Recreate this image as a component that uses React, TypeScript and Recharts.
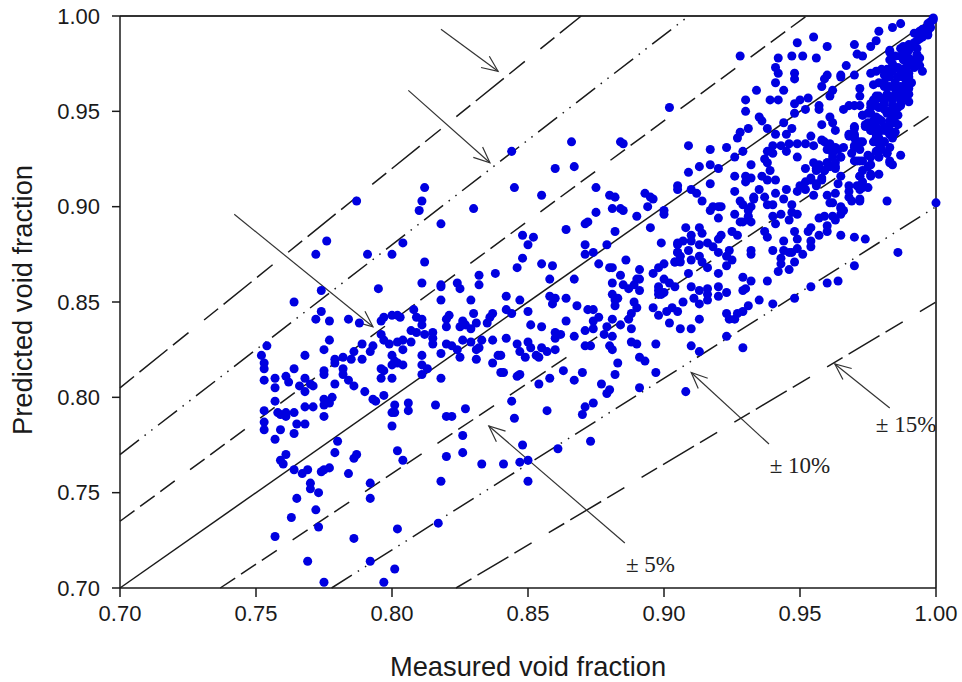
import { ScatterChart, Scatter, XAxis, YAxis, ZAxis, ReferenceLine, ReferenceDot } from "recharts";

type Pair = [number, number];

// [measured, predicted], left to right
const lowVoid: Pair[] = [
  [.774,.856],[.795,.857],[.764,.850],[.774,.845],[.772,.841],[.777,.840],[.784,.841],[.788,.839],[.796,.840],[.797,.842],[.800,.843],[.802,.843],
  [.754,.827],[.752,.822],[.777,.830],[.775,.825],[.768,.822],[.796,.833],[.797,.830],[.799,.828],[.802,.829],[.789,.828],[.793,.827],[.792,.824],
  [.786,.824],[.782,.821],[.779,.820],[.779,.818],[.785,.820],[.789,.820],[.800,.822],[.801,.819],[.800,.817],[.802,.818],[.753,.818],[.753,.815],
  [.764,.815],[.796,.815],[.797,.814],[.775,.814],[.775,.812],[.782,.815],[.782,.812],[.784,.809],[.786,.806],[.796,.810],[.800,.810],[.753,.809],
  [.757,.810],[.761,.811],[.762,.808],[.768,.810],[.766,.806],[.770,.807],[.771,.806],[.768,.803],[.779,.807],[.757,.805],[.790,.803],[.797,.801],
  [.793,.799],[.794,.798],[.778,.800],[.775,.799],[.775,.796],[.777,.797],[.757,.798],[.768,.795],[.771,.795],[.753,.793],[.758,.792],[.759,.791],
  [.761,.792],[.761,.790],[.764,.792],[.775,.790],[.801,.796],[.800,.792],[.801,.792],[.800,.785],[.753,.787],[.753,.783],[.759,.783],[.765,.786],
  [.768,.786],[.764,.781],[.757,.778],[.780,.777],[.779,.771],[.787,.770],[.786,.768],[.802,.772],[.761,.770],[.759,.767],[.760,.765],[.764,.762],
  [.769,.762],[.767,.760],[.774,.761],[.775,.762],[.777,.763],[.784,.760],[.770,.755],[.770,.752],[.773,.750],[.792,.755],[.765,.747],[.792,.747],
  [.772,.741],[.763,.737],[.773,.732],[.757,.727],[.786,.726],[.802,.731],[.769,.714],[.792,.714],[.801,.710],[.775,.703],[.797,.703],
  [.787,.903],[.812,.910],[.811,.903],[.810,.898],[.830,.899],[.818,.891],[.776,.882],[.772,.875],[.791,.875],[.800,.875],[.804,.881],[.812,.871],
  [.811,.860],[.818,.859],[.818,.858],[.824,.860],[.825,.857],[.832,.864],[.832,.859],[.838,.865],[.818,.851],[.829,.851],
];

const midVoid: Pair[] = [
  [.844,.929],[.860,.920],[.867,.921],[.866,.934],[.884,.934],[.885,.933],[.845,.910],[.855,.906],[.875,.910],[.880,.906],[.882,.905],[.893,.907],
  [.896,.904],[.895,.905],[.905,.911],[.905,.909],[.894,.900],[.881,.899],[.884,.899],[.885,.898],[.875,.897],[.890,.895],[.900,.898],[.900,.896],
  [.871,.891],[.872,.892],[.895,.889],[.864,.888],[.882,.887],[.848,.885],[.852,.884],[.850,.880],[.899,.881],[.871,.880],[.871,.875],[.874,.876],
  [.879,.880],[.905,.880],[.905,.876],[.848,.873],[.846,.868],[.855,.870],[.859,.869],[.886,.872],[.876,.870],[.880,.868],[.881,.868],[.891,.867],
  [.900,.870],[.898,.868],[.896,.865],[.904,.871],[.858,.862],[.867,.862],[.884,.864],[.891,.862],[.890,.862],[.881,.860],[.885,.859],[.887,.857],
  [.889,.859],[.891,.856],[.900,.862],[.902,.860],[.898,.858],[.900,.855],[.904,.858],[.842,.853],[.847,.851],[.858,.853],[.860,.852],[.859,.849],
  [.864,.852],[.868,.848],[.881,.854],[.883,.852],[.882,.851],[.882,.848],[.898,.854],[.889,.850],[.890,.847],[.888,.844],[.896,.847],[.872,.846],
  [.874,.846],[.876,.842],[.898,.843],[.901,.845],[.903,.847],[.905,.845],[.902,.839],[.906,.836],[.842,.846],[.844,.844],[.850,.845],[.808,.846],
  [.809,.842],[.811,.841],[.811,.838],[.807,.835],[.809,.834],[.812,.833],[.815,.834],[.815,.831],[.815,.828],[.804,.830],[.807,.829],[.804,.825],
  [.803,.842],[.821,.843],[.820,.841],[.820,.837],[.830,.844],[.837,.844],[.836,.842],[.835,.839],[.831,.839],[.826,.840],[.825,.837],[.827,.838],
  [.829,.836],[.851,.838],[.855,.837],[.864,.840],[.874,.840],[.874,.836],[.871,.835],[.879,.837],[.881,.841],[.884,.838],[.887,.841],[.888,.836],
  [.878,.833],[.881,.832],[.860,.834],[.862,.833],[.860,.831],[.867,.832],[.842,.831],[.837,.830],[.826,.830],[.829,.829],[.833,.830],[.832,.826],
  [.831,.825],[.820,.828],[.822,.827],[.824,.825],[.818,.823],[.825,.821],[.831,.820],[.811,.822],[.804,.817],[.811,.817],[.813,.815],[.811,.812],
  [.818,.810],[.837,.818],[.839,.822],[.840,.822],[.846,.828],[.847,.824],[.849,.821],[.850,.829],[.851,.826],[.855,.826],[.857,.824],[.860,.825],
  [.853,.822],[.854,.821],[.840,.813],[.841,.813],[.846,.811],[.847,.812],[.863,.814],[.858,.810],[.854,.807],[.867,.809],[.870,.813],[.871,.827],
  [.873,.827],[.880,.827],[.881,.825],[.888,.829],[.890,.828],[.897,.828],[.891,.821],[.893,.819],[.883,.818],[.897,.813],[.882,.812],[.877,.807],
  [.880,.804],[.879,.802],[.891,.805],[.874,.797],[.871,.795],[.870,.791],[.806,.797],[.806,.793],[.816,.796],[.820,.790],[.822,.790],[.827,.794],
  [.844,.798],[.845,.789],[.857,.793],[.826,.780],[.848,.775],[.861,.773],[.873,.777],[.804,.767],[.820,.769],[.826,.771],[.833,.765],[.841,.765],
  [.847,.766],[.850,.767],[.818,.756],[.850,.756],[.817,.734],
];

const highVoid: Pair[] = [
  [.902,.952],[.909,.932],[.913,.921],[.909,.918],[.928,.979],[.955,.989],[.949,.986],[.960,.984],[.942,.978],[.947,.979],[.951,.979],[.956,.978],
  [.970,.985],[.978,.987],[.976,.984],[.979,.992],[.984,.994],[.987,.996],[.983,.982],[.971,.980],[.973,.979],[.967,.974],[.941,.973],[.942,.970],
  [.948,.970],[.948,.967],[.960,.969],[.959,.967],[.965,.969],[.965,.968],[.970,.969],[.941,.965],[.944,.961],[.934,.961],[.930,.956],[.939,.956],
  [.942,.956],[.958,.963],[.962,.961],[.961,.958],[.972,.962],[.972,.958],[.953,.957],[.950,.956],[.948,.954],[.957,.953],[.957,.951],[.952,.951],
  [.948,.949],[.930,.950],[.966,.951],[.968,.953],[.970,.953],[.972,.953],[.935,.947],[.936,.945],[.961,.947],[.962,.944],[.963,.940],[.944,.944],
  [.958,.943],[.931,.941],[.928,.939],[.927,.936],[.938,.941],[.941,.938],[.947,.941],[.945,.938],[.954,.937],[.917,.930],[.923,.931],[.926,.926],
  [.929,.929],[.940,.932],[.938,.929],[.940,.928],[.943,.932],[.946,.933],[.949,.933],[.945,.929],[.952,.933],[.955,.932],[.958,.935],[.949,.926],
  [.937,.925],[.938,.923],[.932,.922],[.917,.922],[.920,.920],[.926,.916],[.930,.916],[.932,.915],[.930,.913],[.936,.916],[.939,.919],[.938,.914],
  [.941,.914],[.917,.912],[.910,.909],[.912,.907],[.914,.903],[.926,.908],[.928,.903],[.935,.909],[.933,.904],[.933,.905],[.941,.907],[.945,.909],
  [.937,.905],[.938,.901],[.940,.901],[.944,.904],[.947,.901],[.950,.911],[.918,.900],[.920,.900],
  [.921,.900],[.917,.898],[.920,.894],[.929,.901],[.932,.900],[.926,.896],[.928,.892],[.931,.898],[.931,.895],[.932,.892],[.929,.892],[.940,.895],
  [.943,.896],[.941,.891],[.947,.897],[.949,.896],[.946,.893],[.961,.902],[.969,.903],[.972,.903],[.982,.903],[.965,.899],[.966,.898],[.965,.896],
  [.963,.893],[.962,.895],[.959,.895],[.957,.894],[.960,.890],[.960,.887],[.957,.885],[.954,.889],[.953,.887],[.954,.882],[.954,.879],[.965,.885],
  [.970,.884],[.974,.883],[.986,.876],[1.000,.902],[.908,.889],[.913,.889],[.914,.886],[.910,.885],[.910,.882],[.925,.887],[.927,.885],[.921,.885],
  [.920,.883],[.937,.887],[.938,.884],[.948,.887],[.949,.883],[.944,.882],[.905,.881],[.907,.882],[.905,.876],[.909,.877],[.913,.880],[.916,.881],
  [.918,.879],[.906,.874],[.904,.871],[.906,.871],[.910,.872],[.913,.874],[.914,.871],[.920,.876],[.924,.877],[.923,.874],[.925,.872],[.923,.869],
  [.916,.868],[.932,.877],[.932,.875],[.940,.877],[.944,.877],[.946,.876],[.949,.878],[.947,.876],[.951,.875],[.943,.873],[.943,.870],[.948,.871],
  [.946,.867],[.942,.866],[.909,.865],[.920,.865],[.929,.863],[.932,.861],[.938,.861],[.898,.856],[.899,.854],[.910,.858],[.913,.856],[.916,.857],
  [.916,.854],[.916,.851],[.913,.849],[.911,.852],[.920,.858],[.920,.853],[.923,.855],[.929,.856],[.930,.857],[.935,.851],[.940,.849],[.948,.852],
  [.954,.858],[.960,.860],[.964,.861],[.970,.869],[.907,.850],[.931,.848],[.929,.845],[.927,.844],[.923,.844],[.924,.841],[.926,.841],[.913,.841],
  [.910,.836],[.923,.832],[.910,.827],[.913,.824],[.929,.826],[.908,.803],
];

const denseBand: Pair[] = [
  [.999,.999],[.998,.997],[.998,.994],[.997,.992],[.995,.993],[.994,.992],[.997,.990],[.993,.991],[.992,.991],[.995,.989],[.993,.987],[.992,.986],
  [.990,.985],[.988,.984],[.987,.983],[.996,.991],[.997,.996],[.999,.998],[.983,.981],[.987,.979],[.989,.981],[.991,.984],[.993,.983],[.990,.978],
  [.988,.977],[.992,.977],[.994,.978],[.990,.975],[.992,.973],[.994,.974],[.995,.971],[.984,.975],[.983,.977],[.986,.973],[.988,.972],[.990,.970],
  [.984,.971],[.982,.972],[.980,.972],[.978,.971],[.976,.970],[.981,.969],[.983,.968],[.986,.968],[.988,.968],[.990,.968],[.991,.965],[.989,.965],
  [.979,.965],[.987,.963],[.983,.963],[.990,.962],[.988,.960],[.985,.959],[.982,.959],[.979,.958],[.989,.957],[.987,.956],[.984,.956],[.989,.961],
  [.979,.957],[.977,.954],[.981,.955],[.984,.957],[.987,.953],[.985,.951],[.976,.952],[.979,.952],[.982,.949],[.984,.947],[.985,.944],[.973,.948],
  [.975,.949],[.978,.947],[.977,.945],[.980,.945],[.983,.943],[.974,.943],[.976,.940],[.978,.941],[.981,.940],[.983,.938],[.984,.936],[.970,.942],
  [.970,.938],[.968,.937],[.970,.936],[.979,.936],[.981,.934],[.983,.931],[.979,.933],[.977,.934],[.973,.934],[.966,.931],[.963,.931],[.961,.933],
  [.959,.934],[.960,.930],[.962,.928],[.965,.926],[.970,.931],[.972,.930],[.969,.928],[.980,.930],[.979,.926],[.976,.926],[.982,.928],[.983,.924],
  [.984,.922],[.973,.924],[.970,.924],[.976,.922],[.955,.923],[.957,.922],[.960,.923],[.963,.923],[.963,.920],[.952,.920],[.956,.919],[.959,.919],
  [.961,.921],[.954,.915],[.958,.914],[.952,.913],[.956,.912],[.965,.916],[.973,.919],[.972,.916],[.976,.917],[.979,.917],[.973,.913],[.971,.911],
  [.975,.910],[.972,.909],[.964,.912],[.968,.911],[.968,.908],[.949,.908],[.952,.909],[.955,.906],[.960,.906],[.963,.907],[.968,.905],[.972,.904],
  [.962,.902],[.965,.900],[.987,.927],[.978,.958],[.982,.958],[.986,.959],[.989,.958],[.987,.954],[.984,.953],[.978,.953],[.976,.954],[.973,.948],
  [.976,.949],[.978,.946],[.981,.951],[.984,.947],[.984,.944],[.983,.940],[.984,.937],[.975,.944],[.976,.940],[.978,.942],[.979,.939],[.978,.936],
  [.981,.934],[.970,.941],[.968,.938],[.970,.937],[.970,.932],[.972,.934],[.978,.929],[.982,.928],[.983,.923],[.979,.926],[.975,.927],[.971,.924],
  [.993,.980],[.994,.988],[.990,.982],[.988,.980],[.985,.979],[.989,.973],[.987,.970],[.985,.965],[.981,.965],[.990,.959],[.985,.962],[.981,.963],
  [.977,.964],[.990,.955],[.987,.959],[.977,.956],[.981,.954],[.986,.952],[.983,.950],[.979,.946],[.977,.945],[.986,.948],[.986,.943],[.983,.945],
  [.981,.942],[.985,.939],[.983,.938],[.978,.938],[.976,.943],[.974,.942],[.961,.931],[.964,.930],[.962,.926],[.965,.926],[.960,.923],[.963,.921],
  [.959,.919],[.956,.920],[.954,.914],[.956,.911],[.958,.915],[.972,.924],[.975,.921],[.972,.916],[.973,.910],[.976,.916],
];

const xTicks = [0.7, 0.75, 0.8, 0.85, 0.9, 0.95, 1];
const yTicks = [0.7, 0.75, 0.8, 0.85, 0.9, 0.95, 1];

const bandFactors = [1.15, 1.1, 1.05, 0.95, 0.9, 0.85];
const bandDashes = ["18 7 36 7 20 20", "24 7 1.5 7 1.5 7", "18 7 18 7 18 19"];

// tail x, tail y, tip x, tip y
const arrows = [
  [.818, .993, .839, .971],
  [.806, .961, .836, .923],
  [.742, .896, .793, .837],
  [.8856, .7236, .8356, .785],
  [.9386, .7755, .910, .813],
  [.983, .7944, .9628, .8175],
];

const notes: { text: string; x: number; y: number }[] = [
  { text: "± 5%", x: .895, y: .7126 },
  { text: "± 10%", x: .950, y: .7645 },
  { text: "± 15%", x: .989, y: .786 },
];

const table = [...lowVoid, ...midVoid, ...highVoid, ...denseBand].map(([measured, predicted]) => ({ measured, predicted }));

const sans = "'Liberation Sans', Arial, sans-serif";
const ink = "#1a1a1a";

function bandLine(factor: number) {
  const end = Math.min(1, 1 / factor);
  const start = Math.max(0.7, 0.7 / factor);
  return [
    { x: start, y: start * factor },
    { x: end, y: end * factor },
  ];
}

export default function App() {
  return (
    <div style={{ position: "absolute", left: 0, top: 0, width: 962, height: 682, background: "#fff" }}>
      <ScatterChart width={962} height={682} margin={{ top: 16, right: 26, bottom: 0, left: 0 }}>
        <defs>
          <marker id="openHead" markerUnits="userSpaceOnUse" markerWidth="20" markerHeight="20" refX="17" refY="10" orient="auto" overflow="visible">
            <path d="M1,3 L17,10 L1,17" fill="none" stroke="#333" strokeWidth={1.2} />
          </marker>
        </defs>
        <XAxis
          type="number"
          dataKey="measured"
          domain={[0.7, 1]}
          ticks={xTicks}
          tickFormatter={(v: number) => v.toFixed(2)}
          height={94}
          tickSize={9}
          tickMargin={8}
          stroke={ink}
          strokeWidth={1.5}
          tick={{ fontSize: 22, fontFamily: sans, fill: ink }}
          label={{ value: "Measured void fraction", position: "insideBottom", offset: 6, fontSize: 27.3, fontFamily: sans, fill: ink }}
        />
        <YAxis
          type="number"
          dataKey="predicted"
          domain={[0.7, 1]}
          ticks={yTicks}
          tickFormatter={(v: number) => v.toFixed(2)}
          width={120}
          tickSize={8}
          tickMargin={12}
          stroke={ink}
          strokeWidth={1.5}
          tick={{ fontSize: 22, fontFamily: sans, fill: ink }}
          label={{ value: "Predicted void fraction", angle: -90, position: "insideLeft", offset: 22, dy: -2, fontSize: 27.3, fontFamily: sans, fill: ink, style: { textAnchor: "middle" } }}
        />
        <ZAxis range={[64, 64]} />
        <Scatter data={table} fill="#0000e0" isAnimationActive={false} />

        <ReferenceLine segment={[{ x: 0.7, y: 1 }, { x: 1, y: 1 }]} stroke="#333" strokeWidth={2} />
        <ReferenceLine segment={[{ x: 1, y: 0.7 }, { x: 1, y: 1 }]} stroke="#444" strokeWidth={2} />
        <ReferenceLine segment={[{ x: 0.7, y: 0.7 }, { x: 1, y: 1 }]} stroke={ink} strokeWidth={1.5} />
        {bandFactors.map((factor) => (
          <ReferenceLine
            key={factor}
            segment={bandLine(factor)}
            stroke={ink}
            strokeWidth={1.5}
            strokeDasharray={bandDashes[Math.round(Math.abs(factor - 1) * -20) + 3]}
          />
        ))}
        {arrows.map(([tx, ty, hx, hy]) => (
          <ReferenceLine
            key={`${tx}-${ty}`}
            segment={[{ x: tx, y: ty }, { x: hx, y: hy }]}
            stroke="#333"
            strokeWidth={1.2}
            markerEnd="url(#openHead)"
          />
        ))}
        {notes.map((n) => (
          <ReferenceDot
            key={n.text}
            x={n.x}
            y={n.y}
            r={0}
            stroke="none"
            label={{ value: n.text, position: "center", fontSize: 23, fontFamily: "'Liberation Serif', serif", fill: "#222" }}
          />
        ))}
      </ScatterChart>
    </div>
  );
}
